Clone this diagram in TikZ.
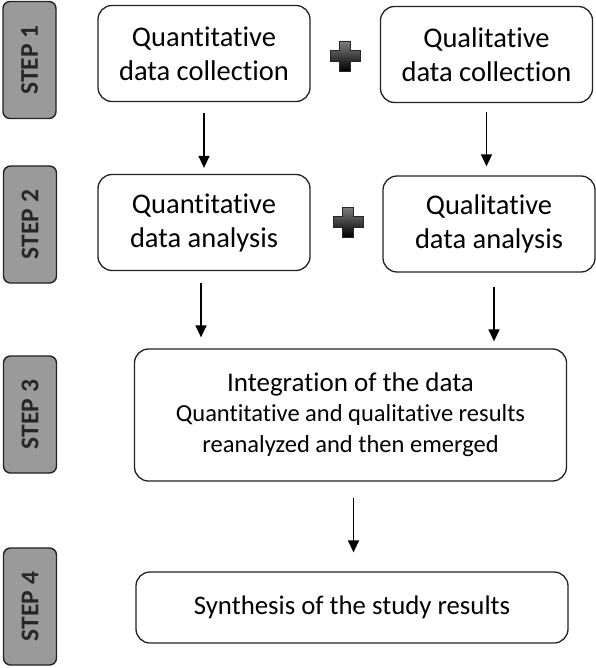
\documentclass[tikz,border=0pt]{standalone}
\usepackage{fontspec}
\setmainfont{Carlito}[RawFeature=-liga]
\usepackage{tikz}
\usetikzlibrary{positioning,arrows.meta}
\definecolor{cStep}{HTML}{9A9A9A}
\definecolor{cLine}{HTML}{222222}

\begin{document}
\begin{tikzpicture}[
  x=1pt, y=-1pt,
  font=\fontsize{28.5}{34}\selectfont,
  blk/.style={draw=cLine, rounded corners=14pt, align=center,
              line width=1.3pt, inner sep=0pt, fill=white},
  stepbox/.style={draw=cLine, fill=cStep, rounded corners=7pt, line width=1.4pt,
              rotate=90, minimum width=117pt, minimum height=53pt, inner sep=0pt,
              font=\fontsize{25.5}{27}\selectfont\bfseries, text=black!85},
  half/.style={blk, minimum width=212pt, minimum height=96pt},
  wide/.style={blk, minimum width=432pt},
  ar/.style={-{Triangle[length=12pt,width=11pt]}, draw=black, line width=1.5pt},
  plusfill/.style={draw=black!85, line width=0.6pt, top color=black!50, bottom color=black},
]
\useasboundingbox (0,0) rectangle (595,668);

% step labels on the left
\node[stepbox] (st1) at (29.5,60)  {STEP 1};
\node[stepbox] (st2) at (30,224.5) {STEP 2};
\node[stepbox] (st3) at (30,414.5) {STEP 3};
\node[stepbox] (st4) at (30,606.5) {STEP 4};

\node[half] (qnc) at (204,53.5)  {Quantitative\\data collection};
\node[half] (qlc) at (486.5,54.5) {Qualitative\\data collection};
\node[half] (qna) at (204,222.5) {Quantitative\\data analysis};
\node[half] (qla) at (489,224)   {Qualitative\\data analysis};

\node[wide, minimum height=132pt, font=\fontsize{27}{33}\selectfont] (int) at (350.5,415)
  {Integration of the data\\[-3pt]
   {\fontsize{24.5}{31}\selectfont Quantitative and qualitative results}\\[-2pt]
   {\fontsize{24.5}{31}\selectfont reanalyzed and then emerged}};
\node[wide, minimum height=71pt, font=\fontsize{26.8}{30}\selectfont] (syn) at (352,607.5)
  {Synthesis of the study results};

\draw[ar, shorten <=11pt, shorten >=6pt] (qnc.south) -- (qnc.south |- qna.north);
\draw[ar, shorten <=9pt, shorten >=9pt] (qlc.south) -- (qlc.south |- qla.north);
\draw[ar, shorten <=12pt, shorten >=11pt] ([xshift=-3pt]qna.south) -- ([xshift=-3pt]qna.south |- int.north);
\draw[ar, shorten <=14pt, shorten >=7pt] ([xshift=5pt]qla.south) -- ([xshift=5pt]qla.south |- int.north);
\draw[ar, shorten <=16pt, shorten >=19pt] ([xshift=3pt]int.south) -- ([xshift=3pt]int.south |- syn.north);

% plus signs between the columns
\foreach \p in {(345,56),(348,222)}{
  \path[plusfill, shift={\p}] (-5.5,-15) -- (5.5,-15) -- (5.5,-5.5) -- (15,-5.5)
    -- (15,5.5) -- (5.5,5.5) -- (5.5,15) -- (-5.5,15) -- (-5.5,5.5) -- (-15,5.5)
    -- (-15,-5.5) -- (-5.5,-5.5) -- cycle;
}
\end{tikzpicture}
\end{document}
